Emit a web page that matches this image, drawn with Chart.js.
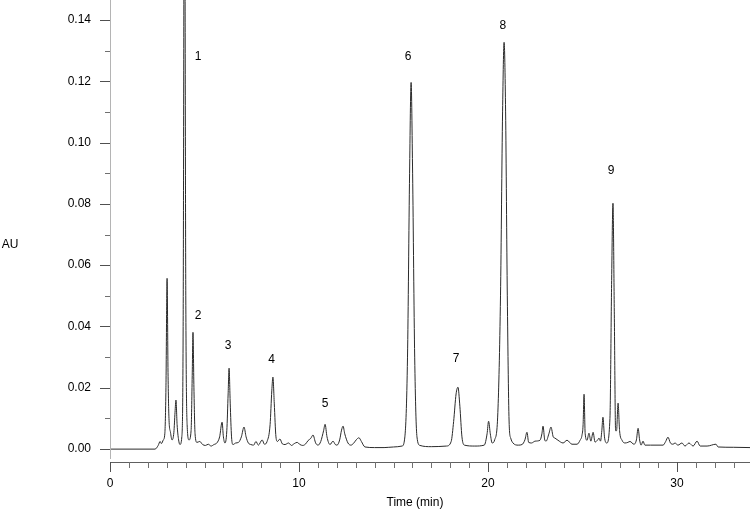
<!DOCTYPE html>
<html><head><meta charset="utf-8">
<script src="https://cdn.jsdelivr.net/npm/chart.js@4"></script>
<style>html,body{margin:0;padding:0;background:#fff}#wrap{width:750px;height:510px;position:relative}</style>
</head><body><div id="wrap"><canvas id="c"></canvas></div>
<script>
const timeMin = [
 0,2.38,2.55,2.65,2.72,2.82,2.90,2.96,3.02,3.07,3.12,3.20,3.28,3.38,3.44,3.49,3.55,3.63,3.70,3.80,
 3.87,3.94,4.01,4.08,4.18,4.29,4.35,4.39,4.44,4.50,4.60,4.75,4.90,5.05,5.20,5.35,5.50,5.65,5.80,5.93,
 6.00,6.08,6.18,6.25,6.30,6.36,6.43,6.51,6.65,6.80,6.95,7.09,7.20,7.32,7.45,7.60,7.72,7.85,8.05,8.17,
 8.31,8.47,8.56,8.62,8.69,8.78,8.86,8.99,9.12,9.26,9.45,9.60,9.75,9.90,10.05,10.20,10.35,10.48,10.62,10.74,
 10.88,11.01,11.15,11.30,11.38,11.48,11.64,11.80,11.92,12.01,12.15,12.25,12.33,12.42,12.59,12.75,12.90,13.05,13.17,13.30,
 13.49,14.00,14.50,15.00,15.45,15.60,15.74,15.85,15.93,16.01,16.12,16.24,16.40,17.00,17.80,18.05,18.18,18.31,18.41,18.51,
 18.62,18.75,19.30,19.80,19.95,20.03,20.12,20.22,20.35,20.52,20.66,20.77,20.85,20.93,21.02,21.12,21.20,21.32,21.60,21.80,
 21.95,22.06,22.15,22.30,22.49,22.75,22.85,22.91,23.00,23.07,23.22,23.33,23.45,23.54,23.70,23.97,24.18,24.44,24.71,24.87,
 24.97,25.03,25.08,25.14,25.24,25.34,25.44,25.56,25.66,25.80,25.87,25.95,26.02,26.08,26.16,26.28,26.45,26.54,26.61,26.68,
 26.75,26.80,26.88,26.96,27.09,27.25,27.40,27.51,27.72,27.85,27.94,28.02,28.10,28.20,28.30,28.60,29.26,29.40,29.52,29.65,
 29.79,29.89,30.05,30.26,30.42,30.63,30.85,31.06,31.22,31.59,32.06,32.17,33.00,33.86
];
const absorbanceAU = [
 0,0,0.0012,0.0025,0.0018,0.0030,0.0050,0.020,0.0557,0.025,0.010,0.0055,0.0030,0.0055,0.012,0.0160,0.008,0.0030,0.0015,0.0040,
 0.040,0.2100,0.050,0.008,0.0030,0.0060,0.024,0.0381,0.020,0.0050,0.0022,0.0025,0.0015,0.0012,0.0016,0.0010,0.0015,0.0020,0.0040,0.0088,
 0.0040,0.0020,0.0060,0.0180,0.0264,0.0150,0.0040,0.0015,0.0020,0.0022,0.0040,0.0072,0.0040,0.0020,0.0015,0.0013,0.0025,0.0013,0.0030,0.0016,
 0.0025,0.0080,0.0190,0.0235,0.0150,0.0040,0.0025,0.0033,0.0017,0.0015,0.0020,0.0012,0.0018,0.0022,0.0015,0.0012,0.0017,0.0028,0.0035,0.0046,
 0.0020,0.0013,0.0025,0.0060,0.0081,0.0040,0.0015,0.0026,0.0015,0.0013,0.0030,0.0062,0.0075,0.0050,0.0020,0.0013,0.0020,0.0032,0.0037,0.0025,
 0.0007,0.0005,0.0005,0.0007,0.0010,0.0040,0.0300,0.0900,0.1196,0.0900,0.0300,0.0040,0.0012,0.0008,0.0010,0.0025,0.0090,0.0180,0.0202,0.0140,
 0.0040,0.0013,0.0010,0.0013,0.0050,0.0091,0.0050,0.0020,0.0030,0.0120,0.0500,0.1100,0.1327,0.1100,0.0500,0.0080,0.0036,0.0020,0.0013,0.0015,
 0.0030,0.0055,0.0022,0.0020,0.0026,0.0029,0.0050,0.0075,0.0030,0.0026,0.0050,0.0072,0.0040,0.0036,0.0029,0.0020,0.0029,0.0016,0.0016,0.0029,
 0.0045,0.0080,0.0179,0.0050,0.0029,0.0052,0.0026,0.0055,0.0023,0.0030,0.0036,0.0026,0.0060,0.0104,0.0040,0.0020,0.0100,0.0550,0.0802,0.0450,
 0.0060,0.0060,0.0150,0.0060,0.0029,0.0020,0.0022,0.0025,0.0016,0.0030,0.0068,0.0030,0.0013,0.0026,0.0013,0.0013,0.0013,0.0025,0.0039,0.0020,
 0.0016,0.0020,0.0013,0.0020,0.0010,0.0020,0.0010,0.0026,0.0010,0.0010,0.0016,0.0007,0.0006,0.0005
];
const yTickValues = [0, 0.02, 0.04, 0.06, 0.08, 0.10, 0.12, 0.14];
const yMinorTickValues = [0.01, 0.03, 0.05, 0.07, 0.09, 0.11, 0.13];
const xTickValues = [0, 10, 20, 30];
const xMinorTickValues = [1,2,3,4,5,6,7,8,9,11,12,13,14,15,16,17,18,19,21,22,23,24,25,26,27,28,29,31,32,33];
const peakNames = ['1','2','3','4','5','6','7','8','9'];
const peakLabelTime = [4.66, 4.66, 6.25, 8.55, 11.38, 15.77, 18.31, 20.79, 26.51];
const peakLabelAU = [0.128, 0.0434, 0.0339, 0.0293, 0.0147, 0.1281, 0.0296, 0.1382, 0.0907];
const xAxisTitle = 'Time (min)';
const yAxisTitle = 'AU';

const FONT = '"Liberation Sans", Arial, Helvetica, sans-serif';
Chart.defaults.font.family = FONT;
Chart.defaults.font.size = 12;
Chart.defaults.color = '#000';

const points = timeMin.map((t, i) => ({x: t, y: absorbanceAU[i]}));

const decor = {
  id: 'decor',
  afterDraw(chart) {
    const {ctx, chartArea: a, scales: {x, y}} = chart;
    ctx.save();
    ctx.lineWidth = 1;
    ctx.strokeStyle = '#b4b4b4';
    ctx.beginPath();
    ctx.moveTo(Math.round(a.left) + 0.5, a.top);
    ctx.lineTo(Math.round(a.left) + 0.5, a.bottom - 3);
    ctx.stroke();
    ctx.strokeStyle = '#606060';
    ctx.beginPath();
    ctx.moveTo(a.left, Math.round(a.bottom) + 0.5);
    ctx.lineTo(a.right, Math.round(a.bottom) + 0.5);
    ctx.stroke();
    ctx.strokeStyle = '#505050';
    ctx.beginPath();
    yTickValues.forEach(v => {
      const py = Math.round(y.getPixelForValue(v)) + 0.5;
      ctx.moveTo(a.left - 10, py); ctx.lineTo(a.left, py);
    });
    xTickValues.forEach(v => {
      const px = Math.round(x.getPixelForValue(v)) + 0.5;
      ctx.moveTo(px, a.bottom); ctx.lineTo(px, a.bottom + 10);
    });
    ctx.stroke();
    ctx.strokeStyle = '#707070';
    ctx.beginPath();
    yMinorTickValues.forEach(v => {
      const py = Math.round(y.getPixelForValue(v)) + 0.5;
      ctx.moveTo(a.left - 5, py); ctx.lineTo(a.left, py);
    });
    xMinorTickValues.forEach(v => {
      const px = Math.round(x.getPixelForValue(v)) + 0.5;
      ctx.moveTo(px, a.bottom); ctx.lineTo(px, a.bottom + 6);
    });
    ctx.stroke();
    ctx.fillStyle = '#000';
    ctx.font = '12px ' + FONT;
    ctx.textAlign = 'center';
    ctx.textBaseline = 'middle';
    ctx.fillText(xAxisTitle, 415, 503);
    ctx.fillText(yAxisTitle, 10, 245);
    peakNames.forEach((n, i) => {
      ctx.fillText(n, x.getPixelForValue(peakLabelTime[i]), y.getPixelForValue(peakLabelAU[i]));
    });
    ctx.restore();
  }
};

new Chart(document.getElementById('c'), {
  type: 'line',
  data: {
    datasets: [{
      data: points,
      borderColor: '#2a2a2a',
      borderWidth: 1,
      pointRadius: 0,
      fill: false,
      cubicInterpolationMode: 'monotone'
    }]
  },
  options: {
    responsive: true,
    maintainAspectRatio: false,
    animation: false,
    layout: {padding: 0},
    plugins: {legend: {display: false}, tooltip: {enabled: false}, title: {display: false}},
    scales: {
      x: {
        type: 'linear',
        min: 0,
        max: 33.86,
        border: {display: false},
        grid: {display: true, drawOnChartArea: false, drawTicks: true, tickLength: 10, color: 'rgba(0,0,0,0)'},
        ticks: {padding: 4, maxRotation: 0, autoSkip: false, callback: v => String(v)},
        afterBuildTicks: s => { s.ticks = xTickValues.map(v => ({value: v})); },
        afterFit: s => { s.height = 48; s.paddingLeft = 0; s.paddingRight = 0; }
      },
      y: {
        type: 'linear',
        min: -0.0042,
        max: 0.1465,
        border: {display: false},
        grid: {display: true, drawOnChartArea: false, drawTicks: true, tickLength: 10, color: 'rgba(0,0,0,0)'},
        ticks: {padding: 9, autoSkip: false, callback: v => Number(v).toFixed(2)},
        afterBuildTicks: s => { s.ticks = yTickValues.map(v => ({value: v})); },
        afterFit: s => { s.width = 110; s.paddingTop = 0; s.paddingBottom = 0; }
      }
    }
  },
  plugins: [decor]
});
</script>
</body></html>
